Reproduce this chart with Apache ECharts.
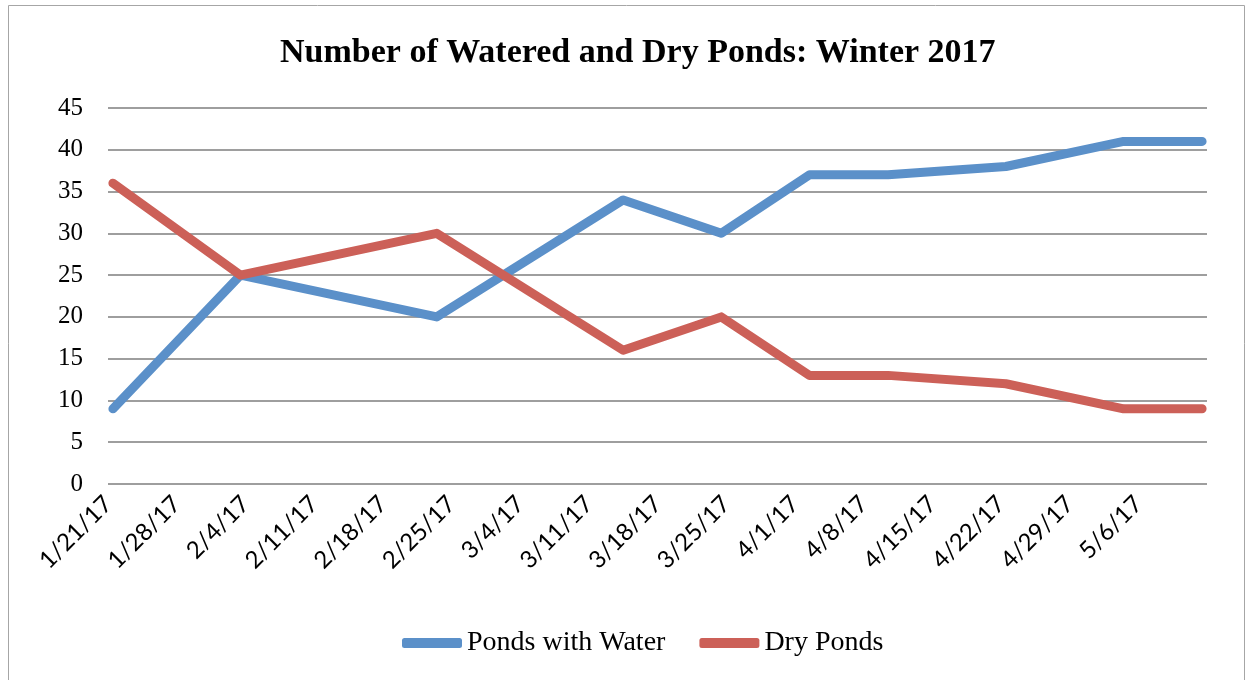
<!DOCTYPE html>
<html>
<head>
<meta charset="utf-8">
<title>Number of Watered and Dry Ponds: Winter 2017</title>
<script src="https://cdn.jsdelivr.net/npm/echarts@6/dist/echarts.min.js"></script>
<style>
    html, body { margin: 0; padding: 0; background: #fff; }
    #chart { width: 1246px; height: 680px; }
</style>
</head>
<body>
<div id="chart"></div>
<script>
// 数据
const axisStart = '2017-01-21';   // 横轴起点
const axisEnd = '2017-05-13';     // 横轴终点
const tickDays = 7;               // 每周一个刻度
const surveyDates = ['2017-01-21', '2017-02-03', '2017-02-23', '2017-03-14', '2017-03-24',
    '2017-04-02', '2017-04-10', '2017-04-22', '2017-05-04', '2017-05-12'];
const pondsWithWater = [9, 25, 20, 34, 30, 37, 37, 38, 41, 41];
const dryPonds = [36, 25, 30, 16, 20, 13, 13, 12, 9, 9];
const yTicks = [0, 5, 10, 15, 20, 25, 30, 35, 40, 45];

const DAY = 24 * 3600 * 1000;

function parseDay(s) {
    const p = s.split('-').map(Number);
    return Date.UTC(p[0], p[1] - 1, p[2]);
}

// 相对起点的天数，点放在当天的中间（和 Excel 日期轴一样）
function dayOffset(s) {
    return (parseDay(s) - parseDay(axisStart)) / DAY;
}

function formatDay(v) {
    const d = new Date(parseDay(axisStart) + Math.round(v) * DAY);
    return (d.getUTCMonth() + 1) + '/' + d.getUTCDate() + '/' + String(d.getUTCFullYear()).slice(2);
}

function buildSeries(values) {
    return surveyDates.map((s, i) => [dayOffset(s) + 0.5, values[i]]);
}

document.addEventListener('DOMContentLoaded', function() {
    const chart = echarts.init(document.getElementById('chart'));

    const lineCommon = {
        type: 'line',
        symbol: 'none',
        lineStyle: { width: 9, cap: 'round', join: 'round' },
        emphasis: { disabled: true }
    };

    chart.setOption({
        animation: false,
        backgroundColor: '#fff',
        graphic: [{
            // 外框
            type: 'rect',
            shape: { x: 8.5, y: 5.5, width: 1236, height: 700 },
            style: { fill: 'none', stroke: '#a6a6a6', lineWidth: 1 },
            silent: true
        }],
        title: {
            text: 'Number of Watered and Dry Ponds: Winter 2017',
            left: 275,
            top: 31,
            textStyle: {
                fontFamily: 'Liberation Serif',
                fontWeight: 'bold',
                fontSize: 34,
                color: '#000'
            }
        },
        legend: {
            left: 397,
            top: 624,
            icon: 'roundRect',
            itemWidth: 60,
            itemHeight: 10,
            itemGap: 34,
            textStyle: {
                fontFamily: 'Liberation Serif',
                fontSize: 28,
                color: '#000'
            },
            data: ['Ponds with Water', 'Dry Ponds']
        },
        grid: {
            left: 108,
            right: 39,
            top: 108,
            bottom: 196,
            containLabel: false
        },
        xAxis: {
            type: 'value',
            min: 0,
            max: dayOffset(axisEnd),
            interval: tickDays,
            axisLine: { show: false },
            axisTick: { show: false },
            splitLine: { show: false },
            axisLabel: {
                rotate: 45,
                margin: 16,
                showMaxLabel: false,
                fontFamily: 'Lato',
                fontSize: 24,
                color: '#000',
                formatter: formatDay
            }
        },
        yAxis: {
            type: 'value',
            min: yTicks[0],
            max: yTicks[yTicks.length - 1],
            interval: yTicks[1] - yTicks[0],
            axisLine: { show: false },
            axisTick: { show: false },
            axisLabel: {
                margin: 25,
                fontFamily: 'Liberation Serif',
                fontSize: 25,
                color: '#000'
            },
            splitLine: { lineStyle: { color: '#9e9e9e', width: 2 } }
        },
        series: [
            Object.assign({}, lineCommon, {
                name: 'Ponds with Water',
                color: '#5b90c9',
                data: buildSeries(pondsWithWater)
            }),
            Object.assign({}, lineCommon, {
                name: 'Dry Ponds',
                color: '#cc6058',
                data: buildSeries(dryPonds)
            })
        ]
    });
});
</script>
</body>
</html>
